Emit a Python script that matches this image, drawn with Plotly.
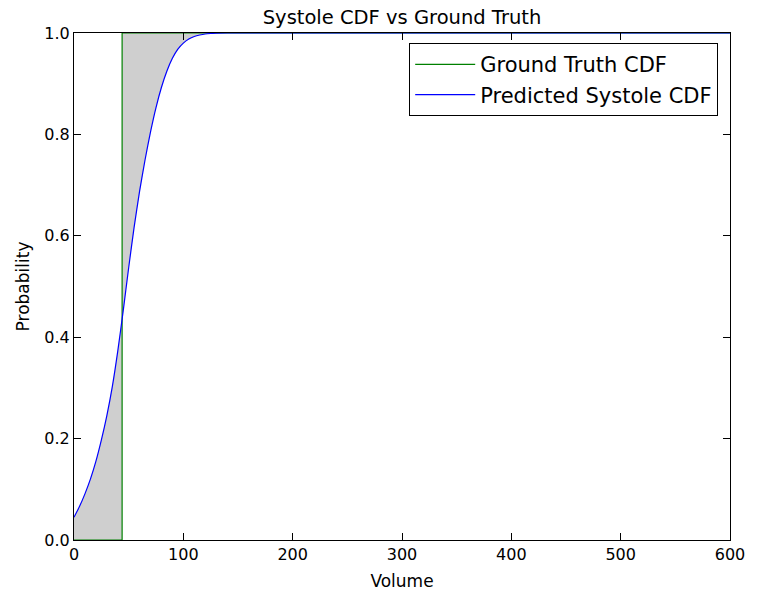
import plotly.graph_objects as go

# Predicted systole CDF
pred_volume = [0, 5, 10, 15, 20, 25, 30, 35, 40, 45, 50, 55, 60, 65, 70, 75, 80,
               85, 90, 95, 100, 105, 110, 115, 120, 125, 130, 140, 600]
pred_prob = [0.045, 0.066, 0.091, 0.120, 0.155, 0.197, 0.245, 0.302, 0.372, 0.452,
             0.537, 0.617, 0.688, 0.750, 0.805, 0.853, 0.893, 0.925, 0.950, 0.968,
             0.980, 0.988, 0.993, 0.996, 0.998, 0.999, 0.9995, 1.0, 1.0]

# Ground-truth CDF (step at the true volume)
gt_volume = [0, 44, 44, 600]
gt_prob = [0, 0, 1, 1]

x_ticks = [0, 100, 200, 300, 400, 500, 600]
y_ticks = [0.0, 0.2, 0.4, 0.6, 0.8, 1.0]

fig = go.Figure()

# Shaded area between the two CDFs
fill_x = pred_volume + gt_volume[::-1]
fill_y = pred_prob + gt_prob[::-1]
fig.add_trace(go.Scatter(x=fill_x, y=fill_y, fill="toself", mode="none",
                         fillcolor="#cfcfcf", showlegend=False, hoverinfo="skip"))

fig.add_trace(go.Scatter(x=gt_volume, y=gt_prob, mode="lines",
                         line=dict(color="#008000", width=1.2),
                         name="Ground Truth CDF"))
fig.add_trace(go.Scatter(x=pred_volume, y=pred_prob, mode="lines",
                         line=dict(color="#0000ff", width=1.2, shape="spline", smoothing=0.6),
                         name="Predicted Systole CDF"))

axis_common = dict(showgrid=False, zeroline=False, showline=True, linecolor="black",
                   linewidth=1.2, mirror="ticks", ticks="inside", ticklen=7,
                   tickcolor="black", tickfont=dict(size=16, color="black"),
                   automargin=False)

fig.update_layout(
    width=757, height=591,
    margin=dict(l=74, r=27, t=33, b=51),
    paper_bgcolor="white", plot_bgcolor="white",
    font=dict(family="DejaVu Sans", color="black"),
    title=dict(text="Systole CDF vs Ground Truth", x=0.5, xref="paper",
               y=1 - 17 / 591, yref="container", yanchor="middle",
               font=dict(size=19.5, color="black")),
    xaxis=dict(range=[0, 600], tickvals=x_ticks, ticktext=[str(v) for v in x_ticks],
               title=dict(text="Volume", font=dict(size=17), standoff=12), **axis_common),
    yaxis=dict(range=[0, 1], tickvals=y_ticks, ticktext=[f"{v:.1f}" for v in y_ticks],
               title=dict(text="Probability", font=dict(size=17), standoff=10), **axis_common),
    legend=dict(x=0.982, y=0.98, xanchor="right", yanchor="top",
                bordercolor="black", borderwidth=1, bgcolor="white",
                font=dict(size=21, color="black"), tracegroupgap=0, itemwidth=60),
    hovermode=False,
)

fig.write_html("out.html")
